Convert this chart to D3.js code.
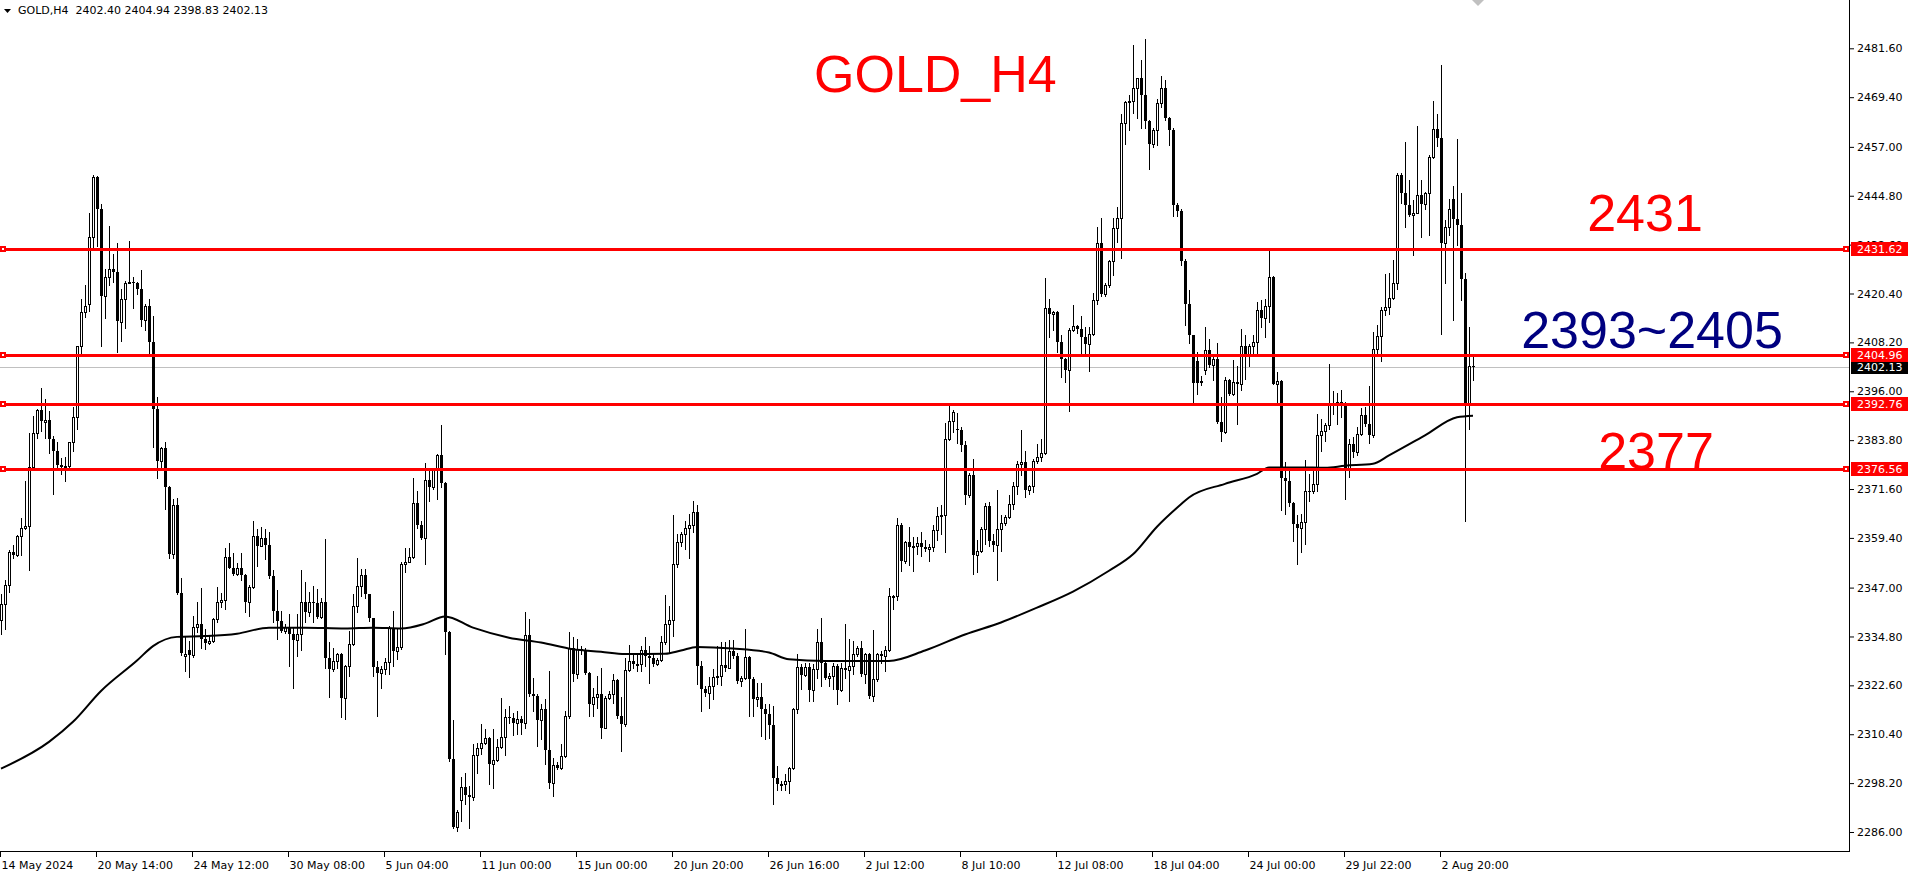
<!DOCTYPE html>
<html><head><meta charset="utf-8">
<script src="https://cdn.jsdelivr.net/npm/d3@7"></script>
<style>html,body{margin:0;padding:0;background:#fff;overflow:hidden}</style>
</head><body>
<svg id="c" width="1911" height="875"></svg>
<script>
// ---------------- DATA ----------------
const opens=[
2338.8,2343.0,2347.6,2356.0,2355.2,2359.8,2361.9,2362.3,2377.2,2385.6,
2391.3,2388.4,2388.9,2384.2,2381.2,2377.6,2377.2,2377.4,2383.4,2389.5,
2407.3,2415.9,2417.8,2434.4,2449.4,2441.4,2419.9,2424.6,2426.5,2425.8,
2413.3,2419.0,2423.1,2423.2,2422.9,2421.6,2413.8,2417.2,2408.4,2391.5,
2378.6,2381.9,2372.2,2355.5,2367.7,2345.6,2329.9,2331.3,2330.1,2337.1,
2337.8,2334.1,2333.1,2333.7,2339.2,2343.3,2343.8,2354.6,2352.0,2350.4,
2352.0,2350.1,2343.4,2347.2,2360.0,2357.5,2359.4,2357.7,2349.9,2341.1,
2338.6,2336.1,2337.2,2335.5,2333.8,2335.4,2343.3,2340.8,2343.5,2343.1,
2339.7,2343.3,2329.5,2326.8,2328.7,2330.4,2319.5,2327.5,2332.9,2342.4,
2347.3,2350.2,2345.4,2339.4,2327.3,2325.6,2326.6,2328.4,2336.8,2331.2,
2332.2,2353.0,2353.5,2354.7,2368.0,2362.6,2359.4,2373.9,2372.0,2376.4,
2380.0,2373.0,2336.0,2304.1,2287.2,2294.1,2297.2,2295.2,2294.7,2305.2,
2307.0,2308.3,2309.5,2303.0,2303.9,2307.2,2309.7,2314.7,2314.5,2313.3,
2314.1,2313.1,2335.2,2320.5,2320.0,2313.9,2316.6,2306.4,2298.3,2302.7,
2301.9,2304.9,2315.0,2331.9,2325.5,2331.6,2331.4,2325.8,2317.9,2319.7,
2320.4,2312.0,2319.5,2320.4,2323.9,2315.0,2312.9,2326.4,2328.7,2327.9,
2328.0,2331.4,2329.9,2329.4,2327.9,2328.9,2333.3,2338.0,2338.9,2353.0,
2358.3,2360.4,2361.9,2362.7,2365.8,2327.4,2321.6,2320.8,2322.4,2324.7,
2324.9,2327.7,2327.0,2331.2,2330.0,2323.7,2324.5,2329.7,2324.1,2319.1,
2319.7,2316.6,2315.5,2312.7,2299.4,2298.0,2298.1,2298.7,2301.9,2316.6,
2327.2,2325.2,2327.2,2321.4,2326.6,2333.3,2328.3,2324.4,2325.0,2327.4,
2321.4,2327.0,2326.4,2327.4,2330.4,2331.9,2325.4,2330.5,2320.0,2324.1,
2330.4,2330.0,2331.4,2344.9,2345.0,2362.7,2353.7,2358.4,2357.1,2357.5,
2358.2,2357.1,2356.7,2357.1,2361.4,2364.8,2365.2,2384.1,2388.5,2386.7,
2386.3,2382.5,2370.0,2375.1,2355.2,2356.2,2361.5,2367.4,2358.6,2357.7,
2361.5,2363.1,2364.6,2367.8,2372.4,2377.9,2378.4,2371.3,2372.3,2378.6,
2379.7,2380.5,2416.9,2415.2,2415.8,2408.3,2404.0,2401.4,2411.3,2412.3,
2411.5,2409.6,2407.7,2410.3,2418.8,2433.1,2420.3,2422.5,2428.4,2436.7,
2439.3,2463.0,2468.3,2468.4,2471.7,2474.1,2469.9,2463.4,2457.6,2461.2,
2467.9,2471.7,2464.2,2461.2,2442.5,2441.0,2428.4,2417.8,2410.1,2403.5,
2398.5,2401.2,2406.2,2402.5,2404.1,2388.3,2385.8,2398.7,2395.2,2398.3,
2397.7,2407.4,2405.4,2407.2,2408.3,2416.2,2414.4,2417.2,2424.5,2397.9,
2398.5,2374.4,2373.5,2368.1,2362.9,2361.9,2363.3,2371.2,2371.0,2372.9,
2385.0,2386.0,2387.7,2392.9,2393.1,2393.3,2392.4,2376.6,2382.9,2380.9,
2385.4,2390.0,2387.9,2385.0,2406.6,2409.7,2416.2,2417.0,2419.4,2422.9,
2449.9,2445.5,2442.4,2439.9,2440.5,2444.9,2442.7,2445.5,2454.4,2461.4,
2459.1,2432.9,2437.0,2444.1,2439.1,2437.4,2423.9,2393.0,2402.4];
const highs=[
2345.4,2348.8,2356.4,2357.7,2360.2,2364.4,2373.7,2385.6,2389.9,2391.5,
2396.8,2394.0,2391.0,2384.9,2383.4,2379.3,2379.7,2383.4,2392.0,2407.4,
2419.0,2422.5,2440.5,2449.9,2449.7,2442.8,2426.5,2437.2,2430.2,2433.0,
2421.5,2423.5,2433.6,2424.6,2423.3,2426.2,2417.9,2419.0,2414.8,2394.6,
2382.2,2383.4,2372.4,2369.2,2369.3,2349.5,2334.9,2333.7,2340.0,2343.3,
2346.9,2336.6,2334.9,2339.4,2347.1,2345.6,2356.8,2358.1,2355.6,2353.2,
2355.6,2350.5,2347.6,2363.6,2361.5,2362.0,2361.6,2360.8,2351.4,2346.3,
2341.1,2337.9,2340.3,2337.0,2340.4,2351.4,2348.5,2345.8,2347.5,2346.6,
2344.5,2359.1,2333.3,2332.0,2330.8,2330.6,2327.7,2336.2,2345.4,2354.5,
2351.6,2351.6,2345.5,2339.5,2328.7,2327.4,2329.5,2337.4,2341.2,2337.0,
2353.3,2356.9,2357.0,2374.4,2371.0,2363.7,2378.0,2376.2,2376.9,2380.4,
2387.5,2373.3,2336.2,2313.9,2291.4,2299.7,2300.8,2297.5,2308.0,2308.3,
2313.0,2311.6,2309.6,2311.6,2309.1,2319.4,2316.6,2317.5,2315.8,2316.2,
2315.0,2341.0,2339.1,2324.5,2320.4,2318.0,2319.1,2326.2,2304.5,2303.5,
2308.0,2316.2,2336.0,2334.7,2334.1,2332.5,2332.0,2326.0,2322.0,2325.0,
2327.0,2320.0,2321.2,2325.4,2324.1,2319.7,2329.5,2332.7,2330.4,2330.8,
2332.5,2334.7,2332.5,2330.8,2329.5,2335.0,2345.2,2342.5,2365.0,2360.5,
2360.8,2363.7,2365.4,2368.5,2367.7,2328.7,2322.4,2324.7,2326.6,2332.5,
2333.3,2333.3,2333.9,2333.9,2330.8,2325.0,2336.6,2330.0,2324.7,2323.3,
2323.3,2317.9,2317.9,2317.4,2302.4,2298.7,2300.4,2302.2,2317.0,2330.4,
2328.0,2328.3,2328.3,2328.0,2336.6,2339.5,2328.7,2325.8,2328.3,2328.0,
2328.3,2338.0,2334.1,2333.7,2332.5,2333.7,2330.8,2330.6,2336.4,2330.8,
2331.2,2332.5,2346.9,2345.2,2364.4,2363.0,2358.6,2362.2,2359.7,2359.7,
2360.9,2358.8,2357.9,2362.6,2367.0,2367.6,2388.1,2392.4,2391.4,2390.6,
2387.2,2383.7,2375.6,2379.0,2358.8,2362.2,2368.2,2368.4,2360.5,2371.3,
2365.2,2365.2,2370.2,2373.4,2378.6,2386.3,2381.0,2372.6,2379.0,2382.9,
2384.0,2424.2,2419.1,2416.1,2416.1,2410.0,2404.4,2411.7,2417.6,2412.6,
2414.7,2412.1,2412.1,2420.6,2437.1,2439.3,2422.9,2428.7,2439.3,2442.1,
2465.1,2468.5,2469.9,2482.4,2474.2,2478.6,2483.8,2463.8,2461.6,2469.0,
2474.8,2473.6,2464.5,2461.6,2443.0,2441.5,2429.0,2421.4,2410.1,2405.7,
2399.8,2412.0,2409.1,2405.0,2408.0,2394.5,2399.5,2399.1,2403.7,2402.4,
2411.6,2410.0,2407.9,2410.0,2418.3,2418.7,2419.1,2431.4,2424.7,2400.8,
2398.7,2378.3,2376.0,2368.3,2365.2,2365.4,2378.9,2375.4,2377.0,2390.4,
2389.1,2388.0,2402.7,2396.0,2395.5,2396.4,2393.3,2384.0,2384.5,2387.0,
2391.9,2392.0,2397.4,2410.8,2412.5,2417.0,2425.2,2425.4,2428.7,2450.5,
2450.4,2458.3,2448.7,2443.7,2462.2,2448.7,2445.8,2455.0,2468.5,2465.2,
2477.5,2438.7,2443.9,2447.2,2458.9,2445.4,2425.4,2412.0,2404.94];
const lows=[
2335.4,2336.7,2346.0,2354.4,2354.8,2355.2,2361.5,2351.4,2376.8,2384.4,
2386.1,2384.4,2380.5,2370.4,2377.2,2375.3,2373.5,2376.8,2381.0,2386.5,
2405.1,2414.5,2416.1,2431.7,2432.2,2407.2,2414.4,2422.5,2423.3,2405.9,
2408.5,2411.9,2422.9,2416.9,2420.3,2412.3,2411.4,2405.1,2382.0,2374.4,
2376.8,2366.5,2354.4,2354.4,2345.4,2330.3,2326.2,2324.8,2329.8,2335.8,
2332.0,2331.6,2332.8,2333.3,2338.3,2342.1,2341.7,2351.8,2350.1,2350.1,
2348.9,2340.8,2340.0,2347.0,2352.3,2357.3,2354.1,2349.5,2338.3,2334.2,
2335.8,2335.6,2327.4,2322.0,2330.0,2331.4,2338.3,2340.0,2338.3,2339.5,
2339.5,2327.0,2319.7,2326.2,2327.0,2314.7,2314.1,2325.0,2332.7,2340.8,
2345.0,2344.5,2338.7,2325.0,2315.0,2322.0,2325.4,2325.4,2327.4,2329.1,
2331.6,2350.8,2353.3,2354.5,2361.9,2359.1,2353.0,2368.7,2371.6,2369.1,
2372.2,2330.4,2303.7,2287.0,2286.2,2288.7,2292.9,2287.0,2294.0,2300.8,
2305.4,2307.9,2297.9,2297.0,2303.7,2307.0,2305.2,2313.3,2310.2,2310.4,
2310.4,2312.0,2320.0,2316.2,2307.5,2309.1,2302.9,2297.0,2295.0,2301.6,
2301.6,2304.7,2314.5,2323.7,2324.4,2330.4,2325.5,2315.0,2315.0,2317.0,
2309.4,2312.0,2319.1,2318.3,2314.5,2306.2,2312.4,2326.2,2327.0,2326.2,
2326.2,2327.4,2323.3,2327.4,2327.7,2328.7,2332.9,2330.8,2335.0,2352.2,
2357.5,2356.6,2354.5,2360.8,2322.9,2316.2,2320.0,2317.0,2319.1,2322.9,
2322.7,2326.2,2326.9,2329.5,2323.3,2322.4,2324.1,2315.0,2315.0,2317.4,
2310.0,2309.1,2309.5,2293.0,2296.4,2296.4,2296.4,2295.8,2301.6,2315.8,
2321.6,2324.9,2318.7,2318.7,2324.5,2322.4,2324.1,2322.4,2321.6,2318.0,
2321.2,2324.5,2318.7,2325.4,2330.0,2325.0,2323.3,2319.5,2318.7,2323.7,
2328.3,2326.2,2331.2,2341.6,2344.0,2351.1,2353.2,2352.7,2351.2,2355.3,
2354.9,2356.2,2353.7,2356.2,2358.8,2360.5,2356.0,2383.8,2385.9,2383.0,
2381.2,2367.8,2369.6,2350.5,2351.0,2355.8,2357.9,2357.5,2356.2,2349.0,
2356.2,2362.6,2364.4,2366.7,2370.4,2375.1,2369.6,2370.4,2370.8,2378.1,
2378.6,2380.3,2409.5,2411.3,2405.7,2399.6,2398.2,2391.1,2411.0,2410.5,
2405.3,2405.3,2401.0,2410.0,2417.8,2419.9,2419.9,2422.0,2425.0,2433.2,
2429.2,2457.6,2461.2,2465.5,2464.2,2461.6,2461.6,2451.4,2457.0,2457.4,
2466.9,2463.8,2457.4,2439.7,2439.7,2427.6,2412.6,2408.0,2393.3,2395.4,
2397.5,2400.4,2402.0,2398.7,2388.0,2383.7,2385.5,2395.0,2395.0,2387.9,
2396.2,2399.1,2402.4,2405.4,2405.4,2412.0,2409.5,2413.3,2397.9,2393.3,
2366.4,2365.4,2367.4,2358.7,2353.0,2356.0,2358.0,2368.7,2370.5,2371.2,
2381.0,2383.7,2386.6,2390.4,2387.9,2389.5,2369.1,2374.5,2379.5,2380.0,
2385.2,2387.4,2383.0,2384.5,2405.0,2403.5,2415.0,2415.2,2419.1,2421.6,
2443.0,2437.0,2439.7,2430.0,2440.4,2434.5,2441.6,2435.0,2454.1,2457.2,
2410.4,2422.9,2435.0,2413.9,2432.4,2418.9,2363.7,2386.6,2398.83];
const closes=[
2343.0,2347.6,2356.0,2355.2,2359.8,2361.9,2362.3,2377.2,2385.6,2391.3,
2388.5,2388.9,2384.2,2381.2,2377.6,2377.2,2377.4,2383.4,2389.5,2407.3,
2415.9,2417.4,2434.4,2449.4,2441.4,2419.9,2424.6,2426.5,2425.8,2413.5,
2419.0,2423.1,2423.2,2422.9,2421.6,2413.8,2417.2,2408.4,2391.5,2378.6,
2381.9,2372.2,2355.5,2367.7,2345.6,2330.7,2330.5,2330.1,2337.1,2337.8,
2334.1,2333.1,2333.7,2339.2,2343.3,2343.8,2354.6,2352.0,2350.4,2352.0,
2350.1,2343.4,2347.2,2360.0,2357.5,2359.4,2357.7,2349.9,2341.1,2338.6,
2336.1,2337.2,2335.5,2333.8,2335.4,2343.3,2340.8,2343.5,2343.1,2339.7,
2343.3,2329.5,2326.8,2328.7,2330.4,2319.5,2327.5,2332.9,2342.4,2347.3,
2350.2,2345.4,2339.4,2327.3,2325.6,2326.6,2328.4,2336.8,2331.2,2332.2,
2353.0,2353.5,2354.7,2368.0,2362.6,2359.4,2373.9,2372.0,2376.4,2380.0,
2373.0,2336.0,2304.1,2287.2,2291.0,2297.2,2295.2,2294.7,2305.2,2307.0,
2308.3,2309.5,2303.0,2303.9,2307.2,2309.7,2314.7,2314.5,2313.3,2314.1,
2313.1,2335.2,2320.5,2320.0,2313.9,2316.6,2306.4,2298.3,2302.7,2301.9,
2304.9,2315.0,2331.9,2325.5,2331.6,2331.4,2325.8,2317.9,2319.7,2320.4,
2312.0,2319.5,2320.4,2323.9,2315.0,2312.9,2326.4,2328.7,2327.9,2328.0,
2331.4,2329.9,2329.4,2327.9,2328.9,2333.3,2338.0,2338.9,2353.0,2358.3,
2360.4,2361.9,2362.7,2365.8,2327.4,2321.6,2320.8,2322.4,2324.7,2324.9,
2327.7,2327.0,2331.2,2330.0,2323.7,2324.5,2329.7,2324.1,2319.1,2319.7,
2316.6,2315.5,2312.7,2299.4,2298.0,2298.1,2298.7,2301.9,2316.6,2327.2,
2325.2,2327.2,2321.4,2326.6,2333.3,2328.3,2324.4,2325.0,2327.4,2321.4,
2327.0,2326.4,2327.4,2330.4,2331.9,2325.4,2330.5,2320.0,2324.1,2330.4,
2330.0,2331.4,2344.9,2345.0,2362.7,2353.7,2358.4,2357.1,2357.5,2358.2,
2357.1,2356.7,2357.1,2361.4,2364.8,2365.2,2384.1,2388.5,2390.8,2386.3,
2382.5,2370.0,2375.1,2355.2,2356.2,2361.5,2367.4,2358.6,2357.7,2361.5,
2363.1,2364.6,2367.8,2372.4,2377.9,2378.4,2371.3,2372.3,2378.6,2379.7,
2380.5,2416.9,2415.2,2415.8,2408.3,2404.0,2401.4,2411.3,2412.3,2411.5,
2409.6,2407.7,2410.3,2418.8,2433.1,2420.3,2422.5,2428.4,2436.7,2439.3,
2463.0,2468.3,2468.4,2471.7,2474.1,2469.9,2463.4,2457.6,2461.2,2467.9,
2471.7,2464.2,2461.2,2442.5,2441.0,2428.4,2417.8,2410.1,2398.0,2398.0,
2398.0,2406.2,2402.5,2404.1,2388.3,2385.8,2398.7,2395.2,2398.3,2397.7,
2407.4,2405.4,2407.2,2408.3,2416.2,2414.4,2417.2,2424.5,2397.9,2398.5,
2374.4,2373.5,2368.1,2362.9,2361.9,2363.3,2371.2,2371.0,2372.9,2385.0,
2386.0,2387.7,2392.9,2393.1,2393.3,2392.4,2376.6,2382.9,2380.9,2385.4,
2390.0,2387.9,2385.0,2406.6,2409.7,2416.2,2417.0,2419.4,2422.9,2449.9,
2445.5,2442.4,2439.9,2440.5,2444.9,2442.7,2445.5,2454.4,2461.4,2459.1,
2432.9,2437.0,2441.6,2439.1,2437.4,2423.9,2393.0,2402.4,2402.13];

// moving average (at these bar indices)
const maIdx=[0,12,18,25,34,38,44,51,59,67,76,86,93,100,106,111,118,127,135,143,150,156,166,170,174,183,192,197,206,214,222,231,241,250,259,268,277,283,289,295,297,306,314,317,325,331,336,343,347,356,364,368];
const maVal=[2301.8,2308.5,2313.5,2321.2,2328.8,2332.4,2334.7,2334.9,2335.5,2337.0,2337.0,2336.8,2337.0,2336.8,2338.0,2339.8,2337.0,2334.5,2333.3,2331.6,2331.0,2330.4,2330.5,2331.3,2332.2,2331.8,2330.8,2329.1,2328.7,2328.7,2328.7,2331.3,2335.3,2338.3,2342.0,2346.0,2351.2,2355.3,2362.2,2367.8,2369.5,2372.9,2375.4,2377.0,2377.0,2376.9,2377.4,2377.9,2380.0,2385.0,2389.5,2389.9];

const priceTicks=[2481.60,2469.40,2457.00,2444.80,2432.60,2420.40,2408.20,2396.00,2383.80,2371.60,2359.40,2347.00,2334.80,2322.60,2310.40,2298.20,2286.00];
const timeIdx=[0,24,48,72,96,120,144,168,192,216,240,264,288,312,336,360];
const timeLabels=["14 May 2024","20 May 14:00","24 May 12:00","30 May 08:00","5 Jun 04:00","11 Jun 00:00","15 Jun 00:00","20 Jun 20:00","26 Jun 16:00","2 Jul 12:00","8 Jul 10:00","12 Jul 08:00","18 Jul 04:00","24 Jul 00:00","29 Jul 22:00","2 Aug 20:00"];
const levels=[2431.62,2404.96,2392.76,2376.56];
const lastPrice=2402.13;
const headerText="GOLD,H4  2402.40 2404.94 2398.83 2402.13";
const titleText="GOLD_H4";
const noteTexts=["2431","2393~2405","2377"];

// ---------------- DRAW ----------------
const W=1911,H=875, axisX=1849, axisY=851;
const svg=d3.select("#c");
svg.append("rect").attr("width",W).attr("height",H).attr("fill","#fff");
const x=d3.scaleLinear().domain([0,368]).range([1,1473]);
const y=d3.scaleLinear().domain([2286,2481.6]).range([832,48.3]);
const FONT="'DejaVu Sans', Verdana, sans-serif";

// current price line
svg.append("line").attr("x1",0).attr("x2",axisX).attr("y1",Math.round(y(lastPrice))+0.5).attr("y2",Math.round(y(lastPrice))+0.5)
  .attr("stroke","#c0c0c0").attr("stroke-width",1);

// candles
const data=opens.map((o,i)=>({i,o,h:highs[i],l:lows[i],c:closes[i]}));
const g=svg.append("g").attr("shape-rendering","crispEdges");
data.forEach(d=>{
  const px=Math.round(x(d.i));
  const yh=Math.round(y(d.h)), yl=Math.round(y(d.l));
  g.append("line").attr("x1",px+0.5).attr("x2",px+0.5).attr("y1",yh).attr("y2",yl+1)
    .attr("stroke","#000").attr("stroke-width",1);
  const yt=Math.round(y(Math.max(d.o,d.c))), yb=Math.round(y(Math.min(d.o,d.c)));
  if(d.c>d.o){
    g.append("rect").attr("x",px-0.5).attr("y",yt+0.5).attr("width",2).attr("height",Math.max(yb-yt,1))
      .attr("fill","#fff").attr("stroke","#000").attr("stroke-width",1);
  } else {
    g.append("rect").attr("x",px-1).attr("y",yt).attr("width",3).attr("height",Math.max(yb-yt,1))
      .attr("fill","#000");
  }
});

// moving average
const maPts=maIdx.map((k,j)=>[k,maVal[j]]);
svg.append("path").datum(maPts)
  .attr("d",d3.line().x(p=>x(p[0])).y(p=>y(p[1])).curve(d3.curveMonotoneX))
  .attr("fill","none").attr("stroke","#000").attr("stroke-width",2);

// horizontal levels
levels.forEach(v=>{
  const yy=Math.round(y(v));
  svg.append("rect").attr("x",0).attr("y",yy-1).attr("width",axisX).attr("height",3).attr("fill","#ff0000");
  [0,axisX-6].forEach(mx=>{
    svg.append("rect").attr("x",mx).attr("y",yy-3).attr("width",6).attr("height",6).attr("fill","#ff0000");
    svg.append("rect").attr("x",mx+2).attr("y",yy-1).attr("width",2).attr("height",2).attr("fill","#fff");
  });
});

// axes frame
svg.append("line").attr("x1",axisX+0.5).attr("x2",axisX+0.5).attr("y1",0).attr("y2",axisY+1).attr("stroke","#000");
svg.append("line").attr("x1",0).attr("x2",axisX+1).attr("y1",axisY+0.5).attr("y2",axisY+0.5).attr("stroke","#000");

// price axis
const ya=svg.append("g").attr("transform",`translate(${axisX+1},0)`)
  .call(d3.axisRight(y).tickValues(priceTicks).tickFormat(d3.format(".2f")).tickSize(4).tickPadding(3));
ya.select(".domain").remove();
ya.selectAll("text").attr("font-family",FONT).attr("font-size",11).attr("fill","#000");
ya.selectAll("line").attr("stroke","#000");

// time axis
const xa=svg.append("g").attr("transform",`translate(-1,${axisY+1})`)
  .call(d3.axisBottom(x).tickValues(timeIdx).tickFormat((d,j)=>timeLabels[j]).tickSize(5).tickPadding(4));
xa.select(".domain").remove();
xa.selectAll("text").attr("font-family",FONT).attr("font-size",11).attr("fill","#000").attr("text-anchor","start").attr("dx",1);
xa.selectAll("line").attr("stroke","#000");

// price labels on axis
function priceLabel(v,bg){
  const yy=Math.round(y(v));
  svg.append("rect").attr("x",axisX+2).attr("y",yy-7).attr("width",57).attr("height",14).attr("fill",bg);
  svg.append("text").attr("x",axisX+8).attr("y",yy+4).attr("font-family",FONT).attr("font-size",11)
    .attr("fill","#fff").text(d3.format(".2f")(v));
}
priceLabel(lastPrice,"#000");
levels.forEach(v=>priceLabel(v,"#ff0000"));

// header
svg.append("path").attr("d","M4,9 L11,9 L7.5,13 Z").attr("fill","#000");
svg.append("text").attr("x",18).attr("y",14).attr("font-family",FONT).attr("font-size",11)
  .attr("fill","#000").style("white-space","pre").text(headerText);

// chart shift marker
svg.append("path").attr("d","M1472,0 L1484,0 L1478,6 Z").attr("fill","#c0c0c0");

// big annotations
const BIG="'Liberation Sans', Arial, sans-serif";
svg.append("text").attr("x",814).attr("y",92).attr("font-family",BIG).attr("font-size",52).attr("fill","#ff0000").text(titleText);
svg.append("text").attr("x",1645).attr("y",231).attr("text-anchor","middle").attr("font-family",BIG).attr("font-size",52).attr("fill","#ff0000").text(noteTexts[0]);
svg.append("text").attr("x",1652).attr("y",348).attr("text-anchor","middle").attr("font-family",BIG).attr("font-size",52).attr("fill","#000080").text(noteTexts[1]);
svg.append("text").attr("x",1656).attr("y",469).attr("text-anchor","middle").attr("font-family",BIG).attr("font-size",52).attr("fill","#ff0000").text(noteTexts[2]);
</script>
</body></html>
